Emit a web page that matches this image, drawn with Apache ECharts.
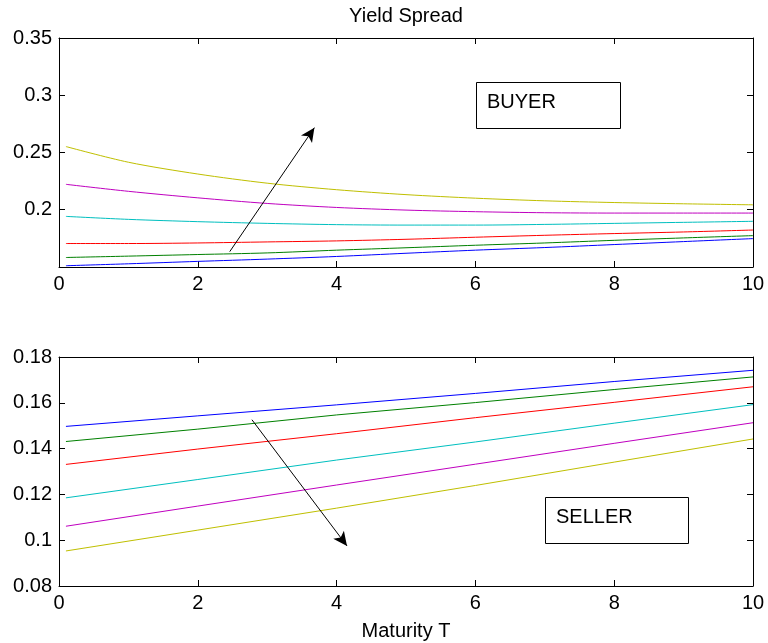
<!DOCTYPE html>
<html>
<head>
<meta charset="utf-8">
<script src="https://cdn.jsdelivr.net/npm/echarts@6/dist/echarts.min.js"></script>
<style>html,body{margin:0;padding:0;background:#fff}#c{width:768px;height:643px}</style>
</head>
<body>
<div id="c"></div>
<script>
// ---- data ----
const topX = [0.1, 1, 2, 3, 4, 5, 6, 7, 8, 9, 10];
const buyerBlue    = [0.1511, 0.1528, 0.1549, 0.1569, 0.1592, 0.1620, 0.1647, 0.1670, 0.1696, 0.1722, 0.1748];
const buyerGreen   = [0.1583, 0.1595, 0.1609, 0.1623, 0.1647, 0.1668, 0.1690, 0.1710, 0.1733, 0.1754, 0.1774];
const buyerRed     = [0.1705, 0.1705, 0.1710, 0.1719, 0.1728, 0.1742, 0.1760, 0.1777, 0.1792, 0.1806, 0.1823];
const buyerCyan    = [0.1942, 0.1916, 0.1896, 0.1881, 0.1870, 0.1866, 0.1866, 0.1872, 0.1881, 0.1890, 0.1899];
const buyerMagenta = [0.2222, 0.2161, 0.2104, 0.2055, 0.2020, 0.1997, 0.1983, 0.1974, 0.1971, 0.1971, 0.1971];
const buyerYellow  = [0.2552, 0.2415, 0.2312, 0.2232, 0.2175, 0.2132, 0.2101, 0.2078, 0.2063, 0.2052, 0.2043];

const botX = [0.1, 2, 4, 6, 8, 10];
const sellerBlue    = [0.1497, 0.1543, 0.1591, 0.1641, 0.1693, 0.1742];
const sellerGreen   = [0.1431, 0.1485, 0.1547, 0.1601, 0.1658, 0.1713];
const sellerRed     = [0.1331, 0.1398, 0.1465, 0.1535, 0.1602, 0.1670];
const sellerCyan    = [0.1185, 0.1265, 0.1350, 0.1429, 0.1511, 0.1592];
const sellerMagenta = [0.1061, 0.1149, 0.1241, 0.1332, 0.1423, 0.1513];
const sellerYellow  = [0.0953, 0.1044, 0.1140, 0.1239, 0.1341, 0.1442];

const buyerArrow  = [[2.46, 0.1634], [3.68, 0.2717]];
const sellerArrow = [[2.78, 0.1526], [4.15, 0.0975]];

const colors = ['#0000ff', '#008000', '#ff0000', '#00bfbf', '#bf00bf', '#bfbf00'];
const titleText = 'Yield Spread';
const xName = 'Maturity T';

// ---- build ----
const FONT = 'Liberation Sans, Arial, sans-serif';
const pairs = (xs, ys) => xs.map((x, i) => [x, ys[i]]);

function xAx(gi, pos, labels, name) {
  const a = {
    gridIndex: gi, type: 'value', min: 0, max: 10, interval: 2, position: pos,
    axisLine: { show: true, onZero: false, lineStyle: { color: '#000', width: 1 } },
    axisTick: { show: true, inside: true, length: 6, lineStyle: { color: '#000', width: 1 } },
    axisLabel: { show: labels, color: '#000', fontSize: 20, fontFamily: FONT, margin: 7 },
    splitLine: { show: false }
  };
  if (name) {
    a.name = name; a.nameLocation = 'middle'; a.nameGap = 35;
    a.nameTextStyle = { color: '#000', fontSize: 20, fontFamily: FONT };
  }
  return a;
}
function yAx(gi, pos, labels, min, max, interval, hideMin) {
  return {
    gridIndex: gi, type: 'value', min: min, max: max, interval: interval, position: pos,
    axisLine: { show: true, onZero: false, lineStyle: { color: '#000', width: 1 } },
    axisTick: { show: true, inside: true, length: 6, lineStyle: { color: '#000', width: 1 } },
    axisLabel: { show: labels, color: '#000', fontSize: 20, fontFamily: FONT, margin: 7, showMinLabel: !hideMin },
    splitLine: { show: false }
  };
}
function line(xi, yi, xs, ys, color, smooth, arrow) {
  const s = {
    type: 'line', xAxisIndex: xi, yAxisIndex: yi, data: pairs(xs, ys),
    showSymbol: false, smooth: smooth, lineStyle: { color: color, width: 1 },
    itemStyle: { color: color }, silent: true, animation: false
  };
  if (arrow) {
    s.markLine = {
      silent: true, animation: false, symbol: ['none', 'arrow'], symbolSize: [10, 14],
      label: { show: false },
      lineStyle: { color: '#000', width: 1, type: 'solid' },
      emphasis: { disabled: true },
      data: [[{ coord: arrow[0] }, { coord: arrow[1] }]]
    };
  }
  return s;
}

const topSets = [buyerBlue, buyerGreen, buyerRed, buyerCyan, buyerMagenta, buyerYellow];
const botSets = [sellerBlue, sellerGreen, sellerRed, sellerCyan, sellerMagenta, sellerYellow];
const series = [];
topSets.forEach((d, i) => series.push(line(0, 0, topX, d, colors[i], 0.3, i === 5 ? buyerArrow : null)));
botSets.forEach((d, i) => series.push(line(2, 2, botX, d, colors[i], false, i === 5 ? sellerArrow : null)));

const option = {
  animation: false,
  backgroundColor: '#fff',
  grid: [
    { left: 59, top: 38, width: 694, height: 229 },
    { left: 59, top: 357, width: 694, height: 229 }
  ],
  xAxis: [xAx(0, 'bottom', true), xAx(0, 'top', false), xAx(1, 'bottom', true, xName), xAx(1, 'top', false)],
  yAxis: [
    yAx(0, 'left', true, 0.15, 0.35, 0.05, true), yAx(0, 'right', false, 0.15, 0.35, 0.05),
    yAx(1, 'left', true, 0.08, 0.18, 0.02), yAx(1, 'right', false, 0.08, 0.18, 0.02)
  ],
  series: series,
  graphic: [
    { type: 'text', x: 406, y: 6, style: { text: titleText, font: '20px ' + FONT, fill: '#000', textAlign: 'center', textVerticalAlign: 'top' } },
    { type: 'rect', shape: { x: 476.5, y: 82.5, width: 144, height: 46 }, style: { fill: '#fff', stroke: '#000', lineWidth: 1 } },
    { type: 'text', x: 487, y: 102, style: { text: 'BUYER', font: '20px ' + FONT, fill: '#000', textAlign: 'left', textVerticalAlign: 'middle' } },
    { type: 'rect', shape: { x: 545.5, y: 497.5, width: 143, height: 46 }, style: { fill: '#fff', stroke: '#000', lineWidth: 1 } },
    { type: 'text', x: 556, y: 517, style: { text: 'SELLER', font: '20px ' + FONT, fill: '#000', textAlign: 'left', textVerticalAlign: 'middle' } }
  ]
};
const chart = echarts.init(document.getElementById('c'), null, { renderer: 'canvas' });
chart.setOption(option);
</script>
</body>
</html>
